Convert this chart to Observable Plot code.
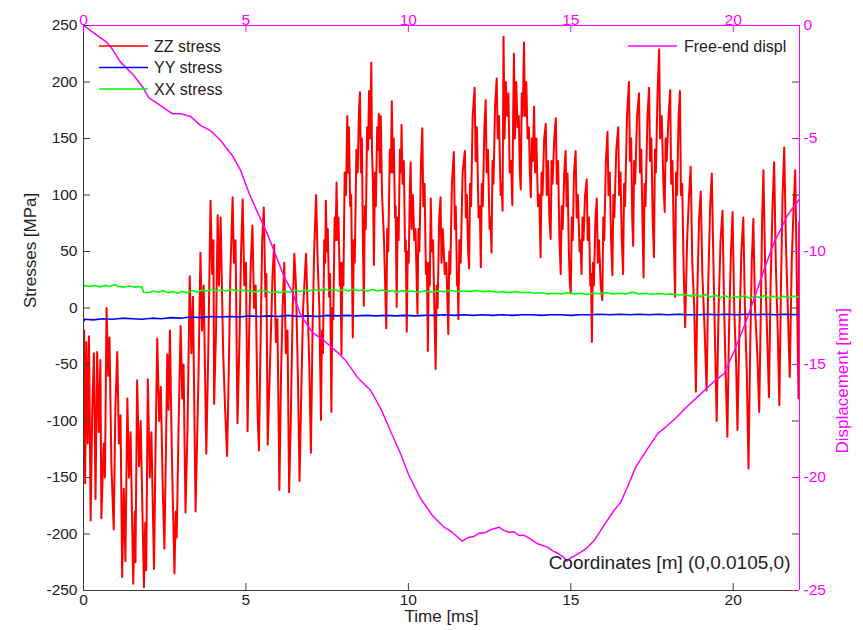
<!DOCTYPE html>
<html>
<head>
<meta charset="utf-8">
<script src="https://cdn.jsdelivr.net/npm/d3@7"></script>
<script src="https://cdn.jsdelivr.net/npm/@observablehq/plot@0.6"></script>
<style>
  body { margin: 0; background: #fff; }
</style>
</head>
<body>
<div id="chart"></div>
<script>
// Axis ranges and tick values
const timeDomain = [0, 22.04];          // ms
const stressDomain = [-250, 250];       // MPa
const timeTicks = [0, 5, 10, 15, 20];
const stressTicks = [250, 200, 150, 100, 50, 0, -50, -100, -150, -200, -250];
const displTicks = [0, -5, -10, -15, -20, -25];   // mm, right axis

// [time ms, stress MPa]
const zzStress = [
  [0.00,-75],[0.02,-20],[0.05,-155],[0.09,-30],[0.13,-120],[0.17,-25],[0.22,-188],[0.27,-90],[0.32,-40],[0.37,-169],
  [0.42,-39],[0.47,-110],[0.52,-46],[0.55,-186],[0.62,-120],[0.66,-150],[0.71,0],[0.76,-60],[0.80,-26],[0.86,-140],
  [0.93,-196],[0.98,-90],[1.04,-39],[1.09,-120],[1.14,-95],[1.19,-238],[1.24,-160],[1.29,-224],[1.35,-80],[1.40,-150],
  [1.45,-110],[1.53,-244],[1.58,-180],[1.60,-225],[1.65,-64],[1.71,-140],[1.76,-100],[1.86,-247],[1.90,-190],[1.93,-232],
  [1.98,-63],[2.04,-150],[2.09,-110],[2.17,-231],[2.22,-120],[2.27,-27],[2.33,-100],[2.38,-70],[2.44,-160],[2.49,-213],
  [2.53,-140],[2.58,-41],[2.62,-90],[2.66,-20],[2.72,-130],[2.80,-235],[2.84,-180],[2.87,-203],[2.93,-100],[2.99,-16],
  [3.04,-80],[3.08,-50],[3.14,-181],[3.20,-110],[3.27,28],[3.32,-40],[3.37,10],[3.45,-180],[3.48,-139],[3.54,-60],
  [3.60,49],[3.65,-20],[3.70,20],[3.78,-129],[3.84,-40],[3.91,95],[3.96,30],[4.00,60],[4.02,-85],[4.08,-20],
  [4.13,82],[4.17,20],[4.22,80],[4.30,-40],[4.36,-90],[4.42,-131],[4.47,-60],[4.52,30],[4.59,98],[4.63,40],
  [4.68,60],[4.74,-102],[4.80,-30],[4.85,50],[4.90,96],[4.95,20],[5.00,40],[5.05,-109],[5.10,-20],[5.15,40],
  [5.20,73],[5.25,0],[5.30,20],[5.36,-95],[5.40,-126],[5.45,-30],[5.50,60],[5.55,89],[5.60,10],[5.63,30],
  [5.67,-121],[5.71,-80],[5.77,-20],[5.82,30],[5.87,56],[5.92,-30],[5.97,-10],[6.03,-161],[6.08,-60],[6.13,0],
  [6.18,40],[6.23,-40],[6.28,-20],[6.33,-163],[6.38,-100],[6.44,0],[6.49,48],[6.54,20],[6.60,-60],[6.65,-153],
  [6.70,-80],[6.76,0],[6.85,48],[6.90,0],[6.95,-50],[7.00,-128],[7.05,-20],[7.10,50],[7.16,100],[7.21,40],
  [7.26,0],[7.31,-99],
  [7.34,-20],[7.37,-40],[7.41,60],[7.44,40],[7.46,95],[7.49,50],[7.52,70],[7.56,10],[7.59,30],[7.63,-92],
  [7.66,0],[7.69,-10],[7.73,80],[7.76,60],[7.79,111],[7.82,60],[7.85,80],[7.89,20],[7.91,40],[7.94,-41],
  [7.97,40],[8.00,20],[8.04,120],[8.08,100],[8.12,170],[8.14,120],[8.17,160],[8.21,90],[8.24,100],[8.29,-26],
  [8.32,60],[8.35,40],[8.40,140],[8.44,120],[8.48,175],[8.51,191],[8.54,120],[8.57,150],[8.60,60],[8.63,2],
  [8.66,90],[8.69,70],[8.73,160],[8.76,140],[8.79,192],[8.82,150],[8.86,217],[8.88,140],[8.91,110],[8.94,38],
  [8.97,120],[9.00,90],[9.04,160],[9.06,140],[9.09,172],[9.12,120],[9.15,170],[9.19,100],[9.25,60],[9.32,-18],
  [9.35,70],[9.38,50],[9.43,140],[9.46,120],[9.49,183],[9.52,120],[9.55,150],[9.59,80],[9.61,90],[9.64,1],
  [9.67,80],[9.70,60],[9.74,140],[9.77,120],[9.79,162],[9.82,110],[9.86,130],[9.90,50],[9.92,60],[9.95,-21],
  [9.98,50],[10.01,40],[10.05,110],[10.07,129],[10.10,70],[10.14,100],[10.18,60],[10.22,70],[10.28,-5],
  [10.31,70],[10.34,50],[10.39,130],[10.43,159],[10.46,90],[10.50,110],[10.54,30],[10.57,40],[10.60,-38],
  [10.63,40],[10.66,20],[10.69,97],[10.72,50],[10.76,60],[10.80,0],[10.84,-54],
  [10.87,20],[10.90,0],[10.95,80],[10.99,98],[11.02,40],[11.06,70],[11.12,30],[11.17,40],[11.23,-23],
  [11.26,50],[11.29,30],[11.34,110],[11.40,138],[11.43,70],[11.46,90],[11.50,20],[11.52,30],[11.54,-10],
  [11.57,60],[11.61,40],[11.67,120],[11.74,139],[11.77,80],[11.80,100],[11.84,50],[11.87,35],
  [11.90,110],[11.93,90],[11.98,170],[12.04,195],[12.07,130],[12.11,160],[12.16,80],[12.20,90],[12.23,36],
  [12.26,110],[12.29,90],[12.34,160],[12.38,184],[12.41,120],[12.45,140],[12.50,70],[12.53,80],[12.56,49],
  [12.59,130],[12.62,110],[12.67,180],[12.72,203],[12.75,150],[12.79,170],[12.84,100],[12.87,110],[12.90,86],
  [12.93,240],[12.96,150],[13.00,200],[13.04,170],[13.08,190],[13.12,120],[13.16,130],[13.20,91],
  [13.23,180],[13.25,225],[13.28,150],[13.32,200],[13.36,160],[13.40,170],[13.43,120],[13.46,105],
  [13.49,190],[13.52,170],[13.56,235],[13.59,170],[13.63,200],[13.67,150],[13.71,160],[13.74,120],[13.77,98],
  [13.80,150],[13.83,130],[13.87,178],[13.90,120],[13.94,150],[13.99,90],[14.03,100],[14.07,45],
  [14.10,120],[14.13,100],[14.18,150],[14.23,163],[14.26,100],[14.30,130],[14.34,80],[14.38,61],
  [14.41,130],[14.44,110],[14.49,150],[14.54,168],[14.57,110],[14.61,130],[14.65,60],[14.69,30],
  [14.72,90],[14.75,70],[14.80,120],[14.84,139],[14.87,90],[14.90,119],[14.94,50],[14.97,23],[15.00,13],
  [15.03,80],[15.06,60],[15.10,120],[15.15,139],[15.18,80],[15.22,100],[15.27,50],[15.30,60],[15.33,30],
  [15.36,80],[15.39,60],[15.44,100],[15.49,114],[15.52,60],[15.56,80],[15.60,20],[15.62,30],[15.65,-30],
  [15.68,40],[15.71,20],[15.76,80],[15.80,97],[15.83,40],[15.87,60],[15.92,20],[15.97,7],
  [16.00,80],[16.03,60],[16.08,130],[16.13,156],[16.16,100],[16.20,120],[16.24,60],[16.28,29],
  [16.31,100],[16.34,80],[16.40,140],[16.46,160],[16.49,100],[16.53,120],[16.57,60],[16.61,30],
  [16.64,110],[16.67,90],[16.73,170],[16.79,200],[16.82,130],[16.86,150],[16.89,80],[16.92,55],
  [16.95,130],[16.98,110],[17.04,170],[17.10,190],[17.13,120],[17.17,140],[17.21,70],[17.24,27],
  [17.27,110],[17.30,90],[17.36,170],[17.41,195],[17.44,130],[17.48,150],[17.52,80],[17.56,45],
  [17.59,140],[17.62,120],[17.67,190],[17.72,229],[17.75,150],[17.80,170],[17.85,110],[17.89,85],
  [17.92,150],[17.95,130],[18.01,170],[18.06,193],[18.09,110],[18.13,130],[18.17,60],[18.21,10],
  [18.24,120],[18.27,100],[18.32,170],[18.36,192],[18.39,100],[18.43,110],[18.47,40],[18.52,-17],
  [18.58,60],[18.64,100],[18.69,125],
  [18.74,40],[18.80,0],[18.85,-74],[18.90,20],[18.95,80],[19.00,103],[19.05,30],[19.12,-20],[19.18,-73],[19.23,20],
  [19.29,90],[19.34,119],[19.39,40],[19.44,-30],[19.49,-100],[19.55,0],[19.61,60],[19.67,86],[19.72,0],[19.77,-60],
  [19.82,-114],[19.87,-20],[19.93,50],[19.98,85],[20.03,0],[20.09,-50],[20.13,-108],[20.19,-20],[20.25,50],[20.31,80],
  [20.36,0],[20.42,-60],[20.47,-142],[20.52,-40],[20.57,40],[20.62,79],[20.67,0],[20.74,-40],[20.80,-92],[20.85,0],
  [20.89,80],[20.93,122],[20.98,40],[21.04,-20],[21.10,-79],[21.15,20],[21.21,90],[21.26,129],[21.31,40],[21.37,-20],
  [21.42,-86],[21.47,20],[21.52,100],[21.57,142],[21.62,60],[21.68,0],[21.74,-61],[21.80,40],[21.86,90],[21.91,122],
  [21.96,20],[22.01,-80],[22.03,76]
];

const yyStress = [
  [0,-12],[0.03,-10],[0.3,-10.5],[0.6,-9.5],[0.9,-10],[1.2,-9],[1.5,-9.5],[1.8,-10],[2.1,-9],[2.4,-9.5],
  [2.7,-8.5],[3.0,-9],[3.3,-8],[3.6,-8.5],[3.9,-7.5],[4.2,-8],[4.5,-7.5],[4.8,-8],[5.1,-7],[5.4,-7.5],
  [5.7,-7],[6.0,-7.5],[6.3,-6.5],[6.6,-7.5],[6.9,-7],[7.2,-7.5],[7.5,-6.5],[7.8,-7],[8.1,-6.5],[8.4,-7],
  [8.7,-6.5],[9.0,-7],[9.3,-6.5],[9.6,-7],[9.9,-6.5],[10.2,-7],[10.5,-6.5],[10.8,-6.5],[11.1,-6],[11.4,-6.5],
  [11.7,-6],[12.0,-6.5],[12.3,-6],[12.6,-6.5],[12.9,-6],[13.2,-6.5],[13.5,-6],[13.8,-6],[14.1,-6.5],[14.4,-6],
  [14.7,-6],[15.0,-6.5],[15.3,-6],[15.6,-6],[15.9,-5.5],[16.2,-6],[16.5,-5.5],[16.8,-6],[17.1,-5.5],[17.4,-6],
  [17.7,-5.5],[18.0,-6],[18.3,-5.5],[18.6,-6],[18.9,-6],[19.2,-5.5],[19.5,-6],[19.8,-5.5],[20.1,-6],[20.4,-5.5],
  [20.7,-6],[21.0,-5.5],[21.3,-6],[21.6,-5.5],[22.03,-6]
];

const xxStress = [
  [0,18],[0.02,20],[0.2,19],[0.35,20],[0.5,18.5],[0.65,20],[0.8,19],[0.95,20.5],[1.1,19],[1.25,18.5],
  [1.4,19.5],[1.55,18.5],[1.7,19],[1.8,18.5],[1.85,14],[2.0,13.5],[2.15,15],[2.3,14],[2.45,15.5],[2.6,13.5],
  [2.75,14.5],[2.9,13],[3.05,14.5],[3.2,13.5],[3.35,15.5],[3.5,14],[3.65,16],[3.8,15],[3.95,16.5],[4.1,15],
  [4.25,16],[4.4,15],[4.55,16.5],[4.7,15],[4.85,16],[5.0,15],[5.15,15.5],[5.3,14],[5.45,16],[5.6,15],
  [5.75,13.5],[5.9,14.5],[6.05,13.5],[6.2,15],[6.35,14],[6.5,16],[6.65,14.5],[6.8,16],[6.95,15],[7.1,16.5],
  [7.25,15],[7.4,17],[7.55,15.5],[7.7,16.5],[7.85,15],[8.0,16.5],[8.15,15],[8.3,16.5],[8.45,15.5],[8.6,16],
  [8.75,15],[8.9,16.5],[9.05,15],[9.2,16],[9.35,14.5],[9.5,15.5],[9.65,14],[9.8,15.5],[9.95,14.5],[10.1,15],
  [10.3,14],[10.5,15],[10.7,14],[10.9,15],[11.1,14.5],[11.3,15.5],[11.5,14.5],[11.7,15],[11.9,14.5],[12.1,15.5],
  [12.3,14.5],[12.5,15],[12.7,14],[12.9,14.5],[13.1,13.5],[13.3,14.5],[13.5,13.5],[13.7,14],[13.9,13],[14.1,13.5],
  [14.3,12.5],[14.5,13],[14.7,12.5],[14.9,13.5],[15.1,12.5],[15.3,13],[15.5,12],[15.7,13],[15.9,12.5],[16.1,13.5],
  [16.3,12.5],[16.5,13],[16.7,12.5],[16.9,14],[17.1,12.5],[17.3,13],[17.5,12],[17.7,13],[17.9,12],[18.1,12.5],
  [18.3,11.5],[18.5,12],[18.7,10.5],[18.85,12],[19.0,10],[19.15,12],[19.3,9.5],[19.45,11.5],[19.6,9],[19.75,11],
  [19.9,8.5],[20.05,10.5],[20.2,9],[20.35,11],[20.5,8.5],[20.65,10.5],[20.8,9],[20.95,11],[21.1,9],[21.25,10.5],
  [21.4,8.5],[21.55,10.5],[21.7,9],[21.85,10.5],[22.03,9.5]
];

// [time ms, free-end displacement mm]
const freeEndDispl = [
  [0,0],[0.42,-0.44],[0.71,-0.74],[0.88,-1.03],[1.14,-1.62],[1.55,-2.21],[1.86,-2.8],[2.01,-3.2],[2.22,-3.39],[2.47,-3.64],
  [2.73,-3.9],[2.99,-3.9],[3.3,-4.03],[3.6,-4.42],[3.91,-4.65],[4.22,-5.09],[4.58,-5.75],[4.84,-6.42],[5.09,-7.4],[5.4,-8.4],
  [5.66,-9.22],[5.9,-10.1],[6.17,-11.1],[6.43,-11.8],[6.68,-12.8],[7.04,-13.57],[7.4,-13.94],[7.81,-14.45],[8.07,-14.82],[8.43,-15.56],
  [8.84,-16.15],[9.15,-16.95],[9.51,-18.14],[9.76,-18.95],[10.02,-19.91],[10.38,-20.94],[10.74,-21.68],[11.1,-22.2],[11.35,-22.42],[11.66,-22.82],
  [11.85,-22.65],[12.02,-22.61],[12.2,-22.45],[12.33,-22.46],[12.55,-22.3],[12.79,-22.2],[12.95,-22.35],[13.1,-22.42],[13.25,-22.4],[13.41,-22.57],
  [13.55,-22.55],[13.67,-22.64],[13.97,-22.93],[14.28,-23.08],[14.45,-23.25],[14.59,-23.35],[14.75,-23.5],[14.88,-23.7],[15.0,-23.55],[15.1,-23.48],
  [15.31,-23.3],[15.46,-23.16],[15.72,-22.79],[16.02,-22.12],[16.33,-21.46],[16.54,-21.09],[16.74,-20.43],[17.0,-19.54],[17.36,-18.73],[17.67,-18.07],
  [17.98,-17.7],[18.28,-17.3],[18.59,-16.85],[19.0,-16.3],[19.41,-15.75],[19.72,-15.4],[20.03,-14.4],[20.34,-13.3],[20.64,-12.1],[20.95,-10.8],
  [21.26,-9.6],[21.47,-9.0],[21.67,-8.4],[22.03,-7.7]
];

const legendLeft = [
  {label: "ZZ stress", color: "#ff0000"},
  {label: "YY stress", color: "#0000ff"},
  {label: "XX stress", color: "#00ff00"}
];
const legendRight = [{label: "Free-end displ", color: "#ff00ff"}];
const caption = "Coordinates [m] (0,0.0105,0)";

const magenta = "#ff00ff";
const ink = "#222";
const axisInk = "#3a3a3a";

// displacement axis (0 … -25 mm) shares the stress axis' vertical extent
const displToStress = d => stressDomain[1] + d * (stressDomain[1] - stressDomain[0]) / 25;

const W = 863, H = 630;
const mL = 83, mR = 64, mT = 25, mB = 40;
const plotW = W - mL - mR, plotH = H - mT - mB;
const tickLen = 7;
const font = "'Liberation Sans', Arial, Helvetica, sans-serif";

const chart = Plot.plot({
  width: W, height: H,
  marginLeft: mL, marginRight: mR, marginTop: mT, marginBottom: mB,
  style: {fontFamily: font, fontSize: "15px", background: "#fff", overflow: "visible"},
  x: {domain: timeDomain, axis: null},
  y: {domain: stressDomain, axis: null},
  marks: [
    // data series
    Plot.line(zzStress, {x: d => d[0], y: d => d[1], stroke: "#ff0000", strokeWidth: 2, clip: true}),
    Plot.line(yyStress, {x: d => d[0], y: d => d[1], stroke: "#0000ff", strokeWidth: 1.6, clip: true}),
    Plot.line(xxStress, {x: d => d[0], y: d => d[1], stroke: "#00ff00", strokeWidth: 1.6, clip: true}),
    Plot.line(freeEndDispl, {x: d => d[0], y: d => displToStress(d[1]), stroke: magenta, strokeWidth: 1.5, clip: true}),

    // axis lines
    Plot.ruleX([timeDomain[0]], {stroke: axisInk}),
    Plot.ruleY([stressDomain[0]], {stroke: axisInk}),
    Plot.ruleY([stressDomain[1]], {stroke: magenta}),
    Plot.ruleX([timeDomain[1]], {stroke: magenta}),

    // inward ticks: stress (left, mirrored right), time (bottom), time top & displacement right in magenta
    Plot.tickY(stressTicks, {y: d => d, stroke: axisInk, insetRight: plotW - tickLen}),
    Plot.tickY(stressTicks, {y: d => d, stroke: axisInk, insetLeft: plotW - tickLen}),
    Plot.tickX(timeTicks, {x: d => d, stroke: axisInk, insetTop: plotH - tickLen}),
    Plot.tickX(timeTicks, {x: d => d, stroke: magenta, insetBottom: plotH - tickLen}),
    Plot.tickY(displTicks, {y: d => displToStress(d), stroke: magenta, insetLeft: plotW - tickLen}),

    // tick labels
    Plot.text(stressTicks, {y: d => d, text: d => String(d), frameAnchor: "left", textAnchor: "end", dx: -6, fill: ink, fontSize: 15.5}),
    Plot.text(timeTicks, {x: d => d, text: d => String(d), frameAnchor: "bottom", dy: 14, fill: ink, fontSize: 15.5}),
    Plot.text(timeTicks, {x: d => d, text: d => String(d), frameAnchor: "top", dy: -12, fill: magenta, fontSize: 15.5}),
    Plot.text(displTicks, {y: d => displToStress(d), text: d => String(d), frameAnchor: "right", textAnchor: "start", dx: 4, fill: magenta, fontSize: 15.5}),

    // axis titles
    Plot.text(["Stresses [MPa]"], {text: d => d, frameAnchor: "left", dx: -53, rotate: -90, fill: ink, fontSize: 17}),
    Plot.text(["Displacement [mm]"], {text: d => d, frameAnchor: "right", dx: 43, rotate: -90, fill: magenta, fontSize: 17}),
    Plot.text(["Time [ms]"], {text: d => d, frameAnchor: "bottom", dy: 31, fill: ink, fontSize: 17}),

    // location note
    Plot.text([caption], {text: d => d, frameAnchor: "bottom-right", textAnchor: "end", dx: -9, dy: -22, fill: ink, fontSize: 19})
  ]
});

// legends drawn in pixel space inside the frame
const svg = d3.select(chart);
const leg = svg.append("g")
  .attr("font-family", font).attr("font-size", 16)
  .attr("fill", ink).attr("text-anchor", "start");
legendLeft.forEach((e, i) => {
  const y = 46 + i * 21.5;
  leg.append("line").attr("x1", 99).attr("x2", 148).attr("y1", y).attr("y2", y)
    .attr("stroke", e.color).attr("stroke-width", 1.6);
  leg.append("text").attr("x", 154).attr("y", y).attr("dy", "0.36em").text(e.label);
});
legendRight.forEach((e, i) => {
  const y = 46 + i * 21.5;
  leg.append("line").attr("x1", 628).attr("x2", 677).attr("y1", y).attr("y2", y)
    .attr("stroke", e.color).attr("stroke-width", 1.6);
  leg.append("text").attr("x", 684).attr("y", y).attr("dy", "0.36em").text(e.label);
});

document.getElementById("chart").appendChild(chart);
</script>
</body>
</html>
